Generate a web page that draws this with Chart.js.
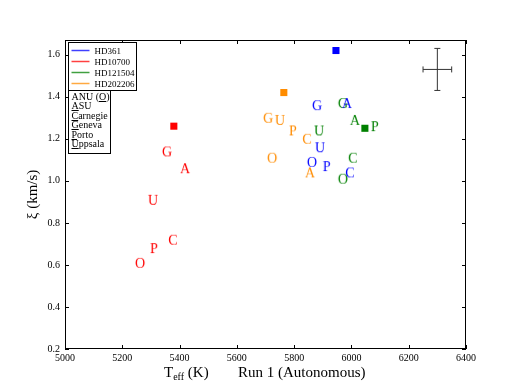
<!DOCTYPE html>
<html lang="en">
<head>
    <meta charset="UTF-8">
    <title>Run 1 (Autonomous)</title>
    <script src="https://cdn.jsdelivr.net/npm/chart.js"></script>
    <style>
        body { margin: 0; background: #fff; }
        #chart-container { width: 518px; height: 388px; }
    </style>
</head>
<body>
    <div id="chart-container">
        <canvas id="xiChart" width="518" height="388"></canvas>
    </div>

    <script>
        // Institutes (letter used as marker) and legend names
        const instituteLetters = ['O', 'A', 'C', 'G', 'P', 'U'];
        const instituteNames = ['ANU (O)', 'ASU', 'Carnegie', 'Geneva', 'Porto', 'Uppsala'];
        const underlineIndex = [5, 0, 0, 0, 0, 0];

        // Stars: Teff and xi per institute (order of instituteLetters), plus reference (square)
        const starNames = ['HD361', 'HD10700', 'HD121504', 'HD202206'];
        const starColors = ['#0000ff', '#ff0000', '#008000', '#ff8c00'];

        const hd361Teff = [5862, 5984, 5995, 5880, 5914, 5890];
        const hd361Xi = [1.09, 1.37, 1.04, 1.36, 1.07, 1.16];
        const hd361Ref = [5946, 1.62];

        const hd10700Teff = [5262, 5419, 5377, 5356, 5311, 5307];
        const hd10700Xi = [0.61, 1.06, 0.72, 1.14, 0.68, 0.91];
        const hd10700Ref = [5380, 1.26];

        const hd121504Teff = [5970, 6012, 6005, 5970, 6082, 5887];
        const hd121504Xi = [1.01, 1.29, 1.11, 1.37, 1.26, 1.24];
        const hd121504Ref = [6047, 1.25];

        const hd202206Teff = [5723, 5855, 5845, 5709, 5796, 5750];
        const hd202206Xi = [1.11, 1.04, 1.20, 1.30, 1.24, 1.29];
        const hd202206Ref = [5764, 1.42];

        // Typical error bar (top right)
        const errTeff = 6300, errXi = 1.53, errDTeff = 50, errDXi = 0.10;

        const xTicks = [5000, 5200, 5400, 5600, 5800, 6000, 6200, 6400];
        const yTicks = [0.2, 0.4, 0.6, 0.8, 1.0, 1.2, 1.4, 1.6];

        const serif = "'Liberation Serif', 'DejaVu Serif', serif";

        // Letter markers as small canvases
        function letterImage(letter, color) {
            const c = document.createElement('canvas');
            c.width = 16; c.height = 16;
            const g = c.getContext('2d');
            g.font = '14px ' + serif;
            g.fillStyle = color;
            g.textAlign = 'center';
            g.textBaseline = 'alphabetic';
            g.fillText(letter, 8, 13);
            return c;
        }

        const starTeff = [hd361Teff, hd10700Teff, hd121504Teff, hd202206Teff];
        const starXi = [hd361Xi, hd10700Xi, hd121504Xi, hd202206Xi];
        const starRef = [hd361Ref, hd10700Ref, hd121504Ref, hd202206Ref];
        const drawOrder = [1, 4, 2, 3]; // blue on top

        const datasets = [];
        starNames.forEach((name, i) => {
            datasets.push({
                label: name,
                data: starTeff[i].map((t, k) => ({ x: t, y: starXi[i][k] })),
                pointStyle: instituteLetters.map(l => letterImage(l, starColors[i])),
                showLine: false,
                order: drawOrder[i]
            });
            datasets.push({
                label: name + ' ref',
                data: [{ x: starRef[i][0], y: starRef[i][1] }],
                pointStyle: 'rect',
                pointRadius: 5,
                backgroundColor: starColors[i],
                borderColor: starColors[i],
                borderWidth: 0,
                showLine: false,
                order: drawOrder[i]
            });
        });

        const decorPlugin = {
            id: 'decor',
            afterDraw(chart) {
                const ctx = chart.ctx;
                const a = chart.chartArea;
                const xs = chart.scales.x, ys = chart.scales.y;
                ctx.save();

                // error bar
                const ex = xs.getPixelForValue(errTeff), ey = ys.getPixelForValue(errXi);
                const x0 = xs.getPixelForValue(errTeff - errDTeff), x1 = xs.getPixelForValue(errTeff + errDTeff);
                const y0 = ys.getPixelForValue(errXi - errDXi), y1 = ys.getPixelForValue(errXi + errDXi);
                ctx.strokeStyle = '#333';
                ctx.lineWidth = 1;
                ctx.beginPath();
                ctx.moveTo(x0, ey); ctx.lineTo(x1, ey);
                ctx.moveTo(ex, y0); ctx.lineTo(ex, y1);
                ctx.moveTo(x0, ey - 3); ctx.lineTo(x0, ey + 3);
                ctx.moveTo(x1, ey - 3); ctx.lineTo(x1, ey + 3);
                ctx.moveTo(ex - 3, y0); ctx.lineTo(ex + 3, y0);
                ctx.moveTo(ex - 3, y1); ctx.lineTo(ex + 3, y1);
                ctx.stroke();

                // frame and inward ticks
                ctx.strokeStyle = '#000';
                ctx.strokeRect(a.left + 0.5, a.top + 0.5, a.right - a.left - 1, a.bottom - a.top - 1);
                ctx.beginPath();
                xTicks.forEach(v => {
                    const px = Math.round(xs.getPixelForValue(v)) + 0.5;
                    ctx.moveTo(px, a.bottom); ctx.lineTo(px, a.bottom - 4);
                    ctx.moveTo(px, a.top); ctx.lineTo(px, a.top + 4);
                });
                yTicks.forEach(v => {
                    const py = Math.round(ys.getPixelForValue(v)) + 0.5;
                    ctx.moveTo(a.left, py); ctx.lineTo(a.left + 4, py);
                    ctx.moveTo(a.right, py); ctx.lineTo(a.right - 4, py);
                });
                ctx.stroke();

                // axis titles
                ctx.fillStyle = '#000';
                ctx.font = '15px ' + serif;
                ctx.textBaseline = 'alphabetic';
                ctx.textAlign = 'left';
                ctx.fillText('T', 164, 377);
                let tw = ctx.measureText('T').width;
                ctx.font = '10px ' + serif;
                ctx.fillText('eff', 164 + tw, 380);
                const sw = ctx.measureText('eff').width;
                ctx.font = '15px ' + serif;
                ctx.fillText(' (K)', 164 + tw + sw, 377);
                ctx.fillText('Run 1 (Autonomous)', 238, 377);

                ctx.save();
                ctx.translate(37, (a.top + a.bottom) / 2);
                ctx.rotate(-Math.PI / 2);
                ctx.textAlign = 'center';
                ctx.fillText('\u03be (km/s)', 0, 0);
                ctx.restore();

                // legend: stars
                const lx = a.left + 3.5, ly = a.top + 2.5;
                ctx.fillStyle = '#fff';
                ctx.fillRect(lx, ly, 68, 48);
                ctx.strokeStyle = '#000';
                ctx.strokeRect(lx, ly, 68, 48);
                ctx.font = '9px ' + serif;
                ctx.textAlign = 'left';
                starNames.forEach((name, i) => {
                    const yy = Math.round(ly + 7 + i * 11) + 0.5;
                    ctx.strokeStyle = starColors[i];
                    ctx.globalAlpha = 0.75;
                    ctx.lineWidth = 1.5;
                    ctx.beginPath();
                    ctx.moveTo(lx + 3, yy); ctx.lineTo(lx + 21, yy);
                    ctx.stroke();
                    ctx.globalAlpha = 1;
                    ctx.lineWidth = 1;
                    ctx.fillStyle = '#000';
                    ctx.fillText(name, lx + 26, yy + 3.5);
                });

                // legend: institutes
                ctx.font = '10px ' + serif;
                const by = ly + 48;
                ctx.fillStyle = '#fff';
                ctx.fillRect(lx, by, 42, 63);
                ctx.strokeStyle = '#000';
                ctx.strokeRect(lx, by, 42, 63);
                ctx.fillStyle = '#000';
                instituteNames.forEach((name, i) => {
                    const base = by + 9 + i * 9.5;
                    ctx.fillText(name, lx + 3, base);
                    const k = underlineIndex[i];
                    const u0 = lx + 3 + ctx.measureText(name.slice(0, k)).width;
                    const u1 = u0 + ctx.measureText(name[k]).width;
                    ctx.strokeStyle = '#000';
                    ctx.beginPath();
                    ctx.moveTo(u0, Math.round(base) + 1.5); ctx.lineTo(u1, Math.round(base) + 1.5);
                    ctx.stroke();
                });
                ctx.restore();
            }
        };

        new Chart(document.getElementById('xiChart'), {
            type: 'scatter',
            data: { datasets: datasets },
            options: {
                responsive: false,
                animation: false,
                devicePixelRatio: 1,
                layout: { padding: { left: 0, right: 52, top: 40, bottom: 0 } },
                plugins: { legend: { display: false }, tooltip: { enabled: false } },
                scales: {
                    x: {
                        type: 'linear',
                        min: 5000, max: 6400,
                        grid: { display: false, drawTicks: false },
                        border: { display: false },
                        afterFit: s => { s.height = 39; },
                        afterBuildTicks: s => { s.ticks = xTicks.map(v => ({ value: v })); },
                        ticks: {
                            padding: 3,
                            maxRotation: 0,
                            color: '#000',
                            font: { family: serif, size: 10 },
                            callback: v => String(v)
                        }
                    },
                    y: {
                        type: 'linear',
                        min: 0.2, max: 1.67,
                        grid: { display: false, drawTicks: false },
                        border: { display: false },
                        afterFit: s => { s.width = 65; },
                        afterBuildTicks: s => { s.ticks = yTicks.map(v => ({ value: v })); },
                        ticks: {
                            padding: 5,
                            color: '#000',
                            font: { family: serif, size: 10 },
                            callback: v => Number(v).toFixed(1)
                        }
                    }
                }
            },
            plugins: [decorPlugin]
        });
    </script>
</body>
</html>
